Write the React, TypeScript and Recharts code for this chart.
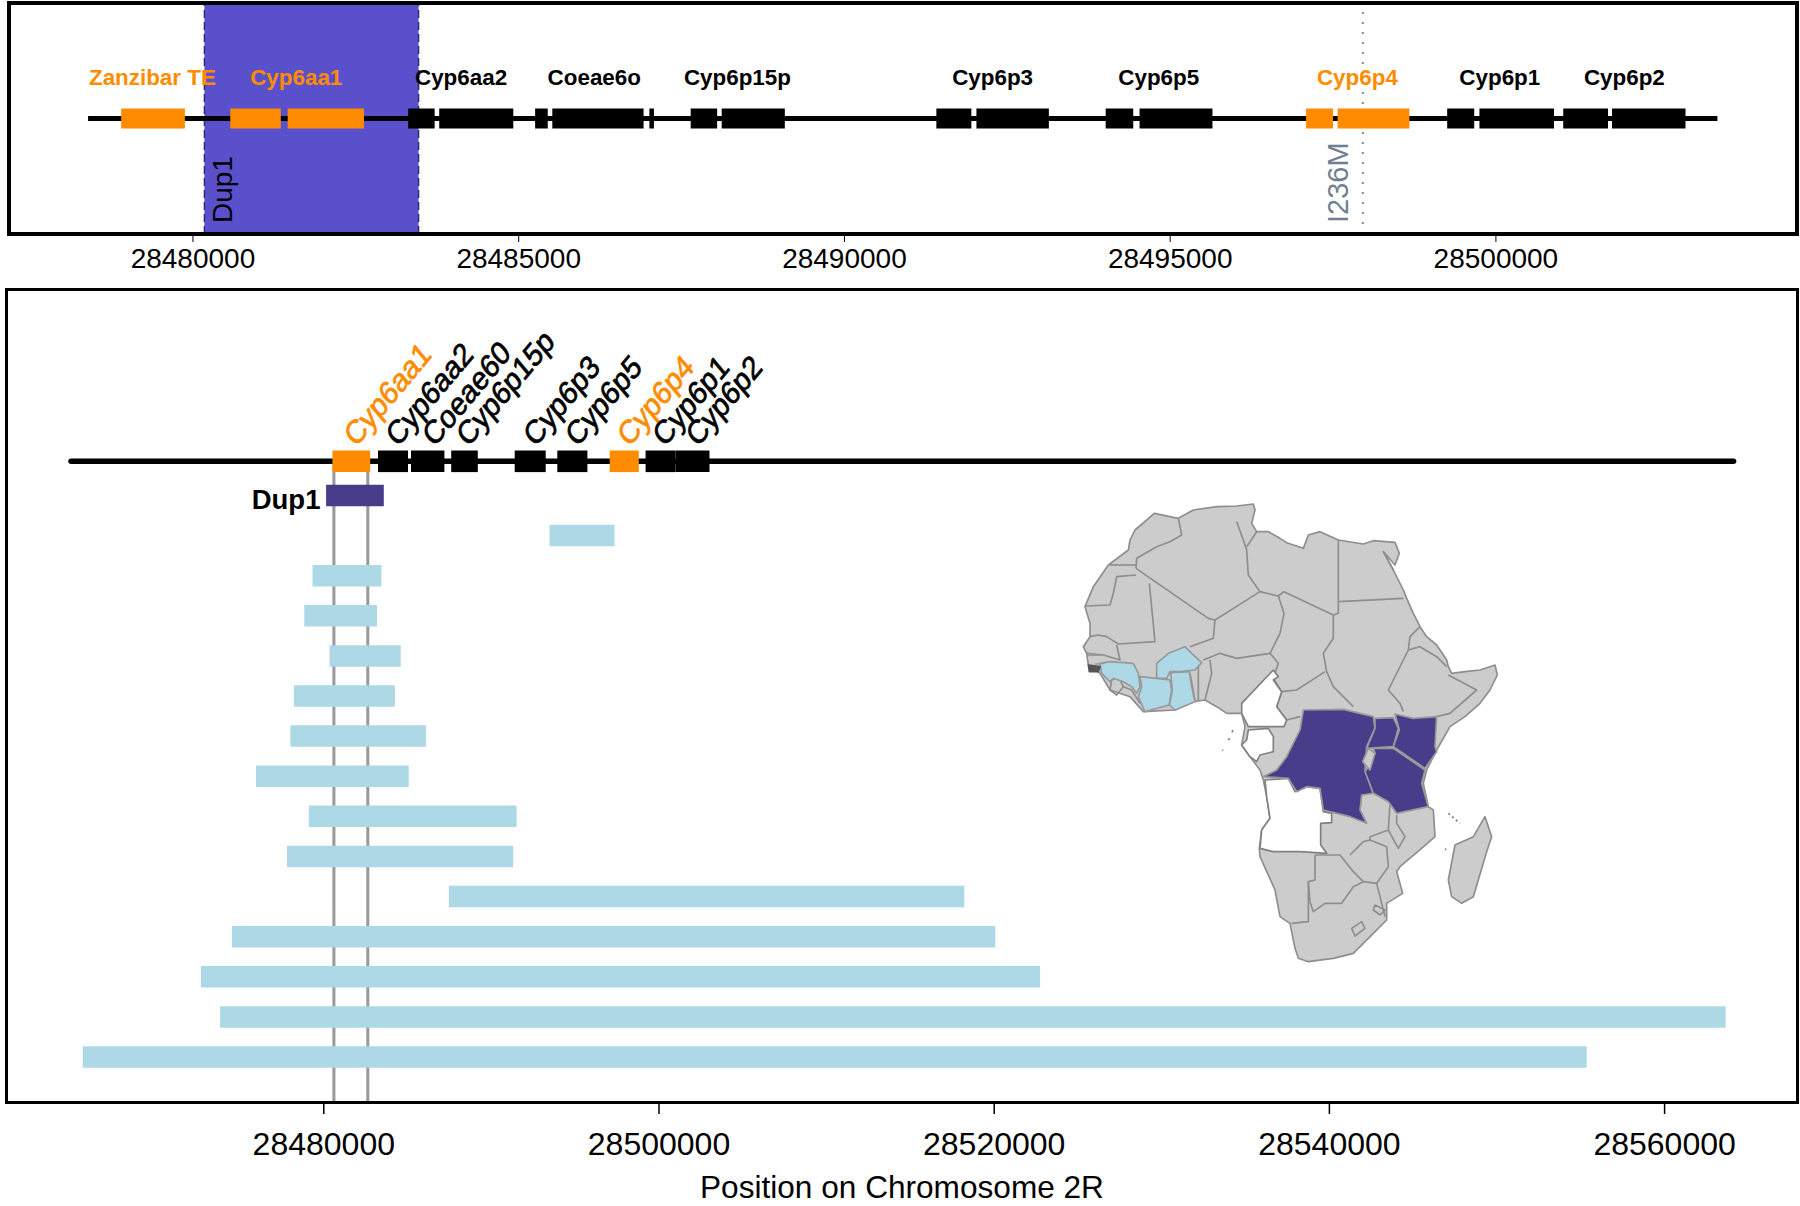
import { ComposedChart, Line, ReferenceArea, ReferenceLine, Scatter, XAxis, YAxis } from "recharts";

const FONT = '"Liberation Sans", Arial, sans-serif';
const ORANGE = "#ff8c00";
const BLUE = "#add8e6";
const DUP_DARK = "#483d8b";

// ---- zoomed view (top panel), positions on 2R ----
const zoomTicks = [28480000, 28485000, 28490000, 28495000, 28500000];
const zoomDomain = [28477161, 28504637];
const zoomBackbone = [28478390, 28503400];
const orangeExons = [
  [28478898, 28479876],
  [28480573, 28481348],
  [28481454, 28482626],
  [28497086, 28497499],
  [28497570, 28498672],
];
const blackExons = [
  [28483304, 28483710],
  [28483780, 28484917],
  [28485252, 28485446],
  [28485516, 28486917],
  [28487006, 28487076],
  [28487640, 28488046],
  [28488116, 28489085],
  [28491411, 28491948],
  [28492026, 28493138],
  [28494010, 28494433],
  [28494530, 28495649],
  [28499252, 28499667],
  [28499747, 28500892],
  [28501033, 28501721],
  [28501782, 28502910],
];
const zoomLabels = ["Zanzibar TE", "Cyp6aa1", "Cyp6aa2", "Coeae6o", "Cyp6p15p", "Cyp6p3", "Cyp6p5", "Cyp6p4", "Cyp6p1", "Cyp6p2"];
const zoomLabelPos = [28479378, 28481586, 28484115, 28486160, 28488358, 28492274, 28494825, 28497874, 28500060, 28501972];
const zoomOrangeLabels = ["Zanzibar TE", "Cyp6aa1", "Cyp6p4"];
const dupZoom = [28480176, 28483463];
const i236m = 28497957;

// ---- wide view (bottom panel) ----
const wideTicks = [28480000, 28500000, 28520000, 28540000, 28560000];
const wideDomain = [28461038, 28567960];
const wideBackbone = [28464916, 28564116];
const wideGenes = ["Cyp6aa1", "Cyp6aa2", "Coeae60", "Cyp6p15p", "Cyp6p3", "Cyp6p5", "Cyp6p4", "Cyp6p1", "Cyp6p2"];
const wideGeneStart = [28480513, 28483234, 28485203, 28487601, 28491390, 28493932, 28497058, 28499200, 28500990];
const wideGeneEnd = [28482768, 28485024, 28487196, 28489189, 28493240, 28495728, 28498795, 28500990, 28503013];
const wideLabelPos = [28481900, 28484400, 28486580, 28488610, 28492600, 28495110, 28498210, 28500320, 28502290];
const wideOrange = ["Cyp6aa1", "Cyp6p4"];
const dupWide = [28480137, 28483580];
const dupBreakpoints = [28480603, 28482625];
const dupStarts = [
  28493472, 28479326, 28478837, 28480340, 28478216, 28478007, 28475955, 28479105, 28477804, 28487464, 28474517, 28472667,
  28473815, 28465615,
];
const dupEnds = [
  28497345, 28483437, 28483174, 28484588, 28484242, 28486092, 28485066, 28491504, 28491301, 28518216, 28520065, 28522739,
  28563640, 28555352,
];

const GENE_ROW = -0.85;

function span(a: number, b: number, y: number) {
  return [
    { x: a, y },
    { x: b, y },
  ];
}

// one interval on the genome axis, as a thick two point line
function segment(key: string, a: number, b: number, y: number, color: string, width: number, cap: "butt" | "round" = "butt") {
  return (
    <Line
      key={key}
      data={span(a, b, y)}
      dataKey="y"
      stroke={color}
      strokeWidth={width}
      strokeLinecap={cap}
      dot={false}
      activeDot={false}
      legendType="none"
      isAnimationActive={false}
    />
  );
}

function ZoomLabel(props: any) {
  const { cx, cy, payload } = props;
  return (
    <text
      x={cx}
      y={cy}
      textAnchor="middle"
      fontFamily={FONT}
      fontWeight="bold"
      fontSize={22.4}
      fill={zoomOrangeLabels.includes(payload.name) ? ORANGE : "#000"}
    >
      {payload.name}
    </text>
  );
}

function RotLabel(props: any) {
  const { cx, cy, payload } = props;
  return (
    <text
      transform={`translate(${cx},${cy}) rotate(-90)`}
      fontFamily={FONT}
      fontSize={payload.size}
      fill={payload.color}
    >
      {payload.name}
    </text>
  );
}

function WideLabel(props: any) {
  const { cx, cy, payload } = props;
  const color = wideOrange.includes(payload.name) ? ORANGE : "#000";
  return (
    <text
      transform={`translate(${cx},${cy}) rotate(-50) skewX(-10)`}
      fontFamily={FONT}
      fontSize={30}
      fill={color}
      stroke={color}
      strokeWidth={0.7}
    >
      {payload.name}
    </text>
  );
}

function DupLabel(props: any) {
  const { cx, cy } = props;
  return (
    <text x={cx} y={cy} textAnchor="end" fontFamily={FONT} fontWeight="bold" fontSize={27.5} fill="#000">
      Dup1
    </text>
  );
}

// Africa inset, hand traced, drawn on a 3x grid
const coast =
  "M283,70 L355,85 400,60 470,50 530,48 580,42 585,60 575,100 590,125 625,125 660,145 680,158 730,175 745,135 780,125 835,150 910,162 940,152 1005,157 1018,190 1005,225 970,185 1000,240 1030,300 1040,325 1060,370 1080,410 1100,440 1130,465 1160,510 1165,530 1175,550 1215,545 1260,540 1305,525 1312,555 1290,600 1260,640 1215,680 1170,710 1130,780 1100,840 1090,880 1105,950 1120,960 1125,1040 1085,1075 1020,1130 1010,1145 1028,1210 980,1240 980,1290 940,1330 880,1390 820,1405 745,1415 715,1405 705,1375 690,1300 660,1280 645,1200 600,1100 598,1075 605,1020 630,985 620,920 610,870 600,840 570,800 545,765 555,710 545,670 500,670 470,650 435,630 400,635 345,660 250,665 210,620 150,600 120,550 85,525 80,490 70,470 90,440 90,400 75,350 100,290 145,225 205,180 210,150 225,120 Z";
const borders = [
  "M355,85 365,135 330,155 290,170 230,205 228,235",
  "M150,225 228,225",
  "M228,255 170,260 160,310 150,345 78,348",
  "M228,235 445,385 465,390 600,305",
  "M268,280 285,455 175,462 140,440 115,435 90,440",
  "M530,95 550,150 560,180 565,255 600,305 655,318 672,305 820,375",
  "M590,125 560,170",
  "M835,150 835,370 820,375",
  "M835,335 1030,325",
  "M970,185 1000,240",
  "M655,318 672,370 660,430 630,490",
  "M465,390 460,445 390,470",
  "M430,510 480,490 530,505 630,490",
  "M450,510 455,550 435,630",
  "M415,530 415,632",
  "M390,550 405,632",
  "M820,375 820,445 790,490 800,545 820,590 880,650",
  "M665,605 710,600 795,545",
  "M630,490 655,520 640,565 665,605 650,650 680,690 720,680",
  "M1080,410 1050,440 1045,480 1015,540 985,600 1020,640 1030,665",
  "M1045,480 1080,470 1130,500 1160,530",
  "M1165,555 1250,600 1170,670 1130,680",
  "M170,465 180,510 130,495 80,490",
  "M155,570 175,560 190,590 170,615 150,600 Z",
  "M190,590 215,600 240,640",
  "M765,1095 765,1170 745,1175 745,1295 695,1300",
  "M745,1175 750,1235 760,1265 795,1240 845,1240 880,1190 910,1175",
  "M910,1175 880,1145 840,1095 765,1095",
  "M870,1095 910,1055 930,1050 980,1070 985,1130 950,1180 910,1175",
  "M990,940 985,1020 930,1040 930,1050",
  "M985,1020 1015,1075 1035,1040 1010,1000 1010,975",
  "M950,1180 965,1240 975,1280",
  "M945,1245 975,1260 960,1275 940,1260 Z",
  "M875,1315 905,1295 915,1315 885,1338 Z",
  "M905,915 900,960 920,1000",
];
const lightBlueLand = [
  "M290,555 290,520 325,490 375,470 395,490 425,518 405,540 360,545 330,545 320,565 290,565 Z",
  "M240,560 290,565 330,570 335,600 328,645 255,665 235,620 245,590 Z",
  "M332,548 388,545 395,590 405,635 345,660 328,645 337,600 Z",
  "M120,520 150,515 220,520 235,550 240,590 230,610 215,590 190,575 160,565 150,575 125,550 Z",
];
const darkLand = [
  "M730,660 850,658 940,680 945,715 920,770 915,840 940,910 905,915 900,960 920,1000 870,980 790,960 780,895 740,890 710,905 685,865 610,860 650,840 680,800 720,720 Z",
  "M945,685 1000,683 1015,715 1000,770 920,775 945,715 Z",
  "M1005,672 1060,685 1130,680 1125,770 1130,785 1095,835 1000,770 1018,720 Z",
  "M940,775 1000,775 1095,840 1085,880 1105,950 1010,970 985,935 940,910 915,845 925,830 945,790 Z",
];
const whiteLand = [
  "M640,540 655,560 640,570 665,605 650,650 680,690 672,710 565,710 545,670 545,640 Z",
  "M565,720 625,715 640,740 640,785 600,795 590,815 570,800 545,765 560,750 Z",
  "M615,870 685,865 705,905 740,890 780,895 790,965 815,970 815,998 782,1000 782,1065 800,1090 720,1085 640,1085 600,1075 605,1020 630,985 620,920 Z",
];
const madagascar = "M1275,980 1295,1040 1280,1085 1240,1220 1205,1240 1175,1220 1165,1170 1185,1065 1240,1040 Z";

function AfricaMap() {
  return (
    <svg
      width={470}
      height={500}
      viewBox="0 0 1410 1500"
      style={{ position: "absolute", left: 1060, top: 490 }}
      strokeLinejoin="round"
      fill="none"
      stroke="#8e8e8e"
      strokeWidth={5}
    >
      <path d={coast} fill="#cccccc" />
      <path d={madagascar} fill="#cccccc" />
      {borders.map((d) => (
        <path key={d} d={d} />
      ))}
      {whiteLand.map((d) => (
        <path key={d} d={d} fill="#fff" stroke="#808080" />
      ))}
      {lightBlueLand.map((d) => (
        <path key={d} d={d} fill={BLUE} stroke="#999" />
      ))}
      {darkLand.map((d) => (
        <path key={d} d={d} fill={DUP_DARK} stroke="#999" />
      ))}
      <path d="M85,525 120,530 115,545 88,545 Z" fill="#555" stroke="#555" />
      <path d="M80,497 135,495 M105,522 135,520" stroke="#999" strokeWidth={4} />
      <path d="M925,775 945,790 930,840 908,815 Z" fill="#cccccc" stroke="#999" />
      <path d="M515,722 520,725 M505,745 508,750 M487,780 489,782 M1155,1077 1158,1079" strokeWidth={7} />
      <path d="M1165,970 1200,1000" strokeWidth={6} strokeDasharray="6 9" />
    </svg>
  );
}

export default function App() {
  return (
    <div style={{ position: "absolute", left: 0, top: 0, width: 1800, height: 1206, background: "#fff", fontFamily: FONT, overflow: "hidden" }}>
      <div style={{ position: "absolute", top: 0, left: 0 }}>
        <ComposedChart width={1800} height={285} margin={{ top: 3, right: 2, bottom: 0, left: 8 }}>
          <XAxis
            dataKey="x"
            type="number"
            domain={zoomDomain}
            allowDataOverflow
            ticks={zoomTicks}
            interval={0}
            height={51}
            axisLine={false}
            tickSize={8}
            tickMargin={6}
            tickLine={{ stroke: "#000", strokeWidth: 1 }}
            tick={{ fill: "#000", fontSize: 28, fontFamily: FONT }}
            tickFormatter={(v: number) => String(v)}
          />
          <YAxis hide dataKey="y" type="number" domain={[-1, 1]} allowDataOverflow />
          <ReferenceArea x1={dupZoom[0]} x2={dupZoom[1]} y1={-1} y2={1} fill="#5a50cc" fillOpacity={1} stroke="none" />
          <ReferenceLine x={dupZoom[0]} stroke="#2e2a70" strokeWidth={1.5} strokeDasharray="8 4" />
          <ReferenceLine x={dupZoom[1]} stroke="#2e2a70" strokeWidth={1.5} strokeDasharray="8 4" />
          <ReferenceLine x={i236m} stroke="#888" strokeWidth={2} strokeDasharray="2 8" />
          {segment("backbone", zoomBackbone[0], zoomBackbone[1], 0, "#000", 5)}
          {orangeExons.map(([a, b]) => segment(`o${a}`, a, b, 0, ORANGE, 20))}
          {blackExons.map(([a, b]) => segment(`b${a}`, a, b, 0, "#000", 20))}
          <Scatter
            data={zoomLabels.map((name, i) => ({ name, x: zoomLabelPos[i], y: 0.29 }))}
            shape={ZoomLabel}
            isAnimationActive={false}
          />
          <Scatter
            data={[
              { name: "Dup1", x: dupZoom[0] + 430, y: -0.905, size: 28, color: "#000" },
              { name: "I236M", x: i236m - 230, y: -0.905, size: 29, color: "#708090" },
            ]}
            shape={RotLabel}
            isAnimationActive={false}
          />
        </ComposedChart>
      </div>

      <div style={{ position: "absolute", top: 280, left: 0 }}>
        <ComposedChart width={1800} height={926} margin={{ top: 9, right: 2, bottom: 0, left: 6 }}>
          <XAxis
            dataKey="x"
            type="number"
            domain={wideDomain}
            allowDataOverflow
            ticks={wideTicks}
            interval={0}
            height={103}
            axisLine={false}
            tickSize={11}
            tickMargin={18}
            tickLine={{ stroke: "#000", strokeWidth: 1.5 }}
            tick={{ fill: "#000", fontSize: 32, fontFamily: FONT }}
            tickFormatter={(v: number) => String(v)}
            label={{ value: "Position on Chromosome 2R", position: "insideBottom", offset: 8, fill: "#000", fontSize: 31.6, fontFamily: FONT }}
          />
          <YAxis hide dataKey="y" type="number" reversed domain={[-5.145, 15.145]} allowDataOverflow />
          {dupBreakpoints.map((x) => (
            <ReferenceLine
              key={x}
              segment={[{ x, y: GENE_ROW }, { x, y: 15.145 }]}
              stroke="#999"
              strokeWidth={3}
            />
          ))}
          {segment("backbone", wideBackbone[0], wideBackbone[1], GENE_ROW, "#000", 5.5, "round")}
          {wideGenes.map((g, i) => segment(g, wideGeneStart[i], wideGeneEnd[i], GENE_ROW, wideOrange.includes(g) ? ORANGE : "#000", 21.6))}
          {segment("dup", dupWide[0], dupWide[1], 0, DUP_DARK, 21.5)}
          {dupStarts.map((a, i) => segment(`d${i}`, a, dupEnds[i], i + 1, BLUE, 21.5))}
          <Scatter
            data={wideGenes.map((name, i) => ({ name, x: wideLabelPos[i], y: -1.18 }))}
            shape={WideLabel}
            isAnimationActive={false}
          />
          <Scatter data={[{ x: 28479800, y: 0.34 }]} shape={DupLabel} isAnimationActive={false} />
        </ComposedChart>
      </div>

      <AfricaMap />

      <div style={{ position: "absolute", left: 7, top: 1, width: 1792, height: 235, boxSizing: "border-box", border: "4px solid #000", pointerEvents: "none" }} />
      <div style={{ position: "absolute", left: 5, top: 288, width: 1794, height: 816, boxSizing: "border-box", border: "3px solid #000", pointerEvents: "none" }} />
    </div>
  );
}
